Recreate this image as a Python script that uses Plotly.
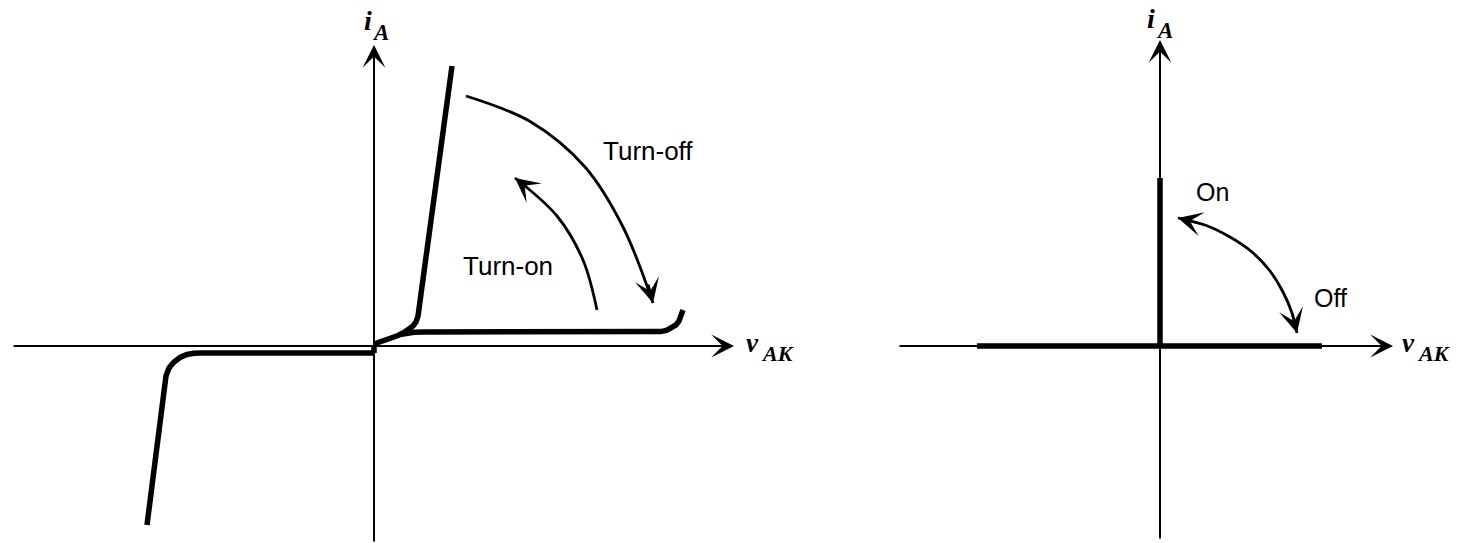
import plotly.graph_objects as go

# ---------------- data (units: pixels relative to each panel's axis origin, y up) ----------------
# Left panel: thyristor i-v characteristic
rev_x = [-227, -210, -208, -205, -200, -194, -187, -180, -174, 0]
rev_y = [-179, -40, -30, -22, -16, -11.5, -8.5, -7.3, -7, -7]
rev_stub_x = [0, 0]
rev_stub_y = [-7, 1]

on_x = [0, 8, 16, 24, 30, 35, 39, 42, 44, 78]
on_y = [2, 4.5, 7.5, 10.5, 13.5, 16.5, 20, 24, 30, 280]

block_x = [26, 33, 40, 50, 280, 287, 293, 298, 302, 305, 307.5, 309]
block_y = [11.5, 13, 13.7, 14, 14, 14.4, 15.8, 18, 21, 25, 30, 36]

turnoff_x = [92, 157, 211, 249, 279]
turnoff_y = [250, 224, 179, 119, 43]

turnon_x = [223, 209, 183, 141]
turnon_y = [36, 86, 130, 168]

# Right panel: idealized characteristic
ideal_on_x = [0, 0]
ideal_on_y = [0, 168]
ideal_off_x = [-183, 162]
ideal_off_y = [0, 0]
onoff_x = [18, 45, 70, 92, 110, 123, 132, 137]
onoff_y = [128, 121, 109, 94, 75, 54, 33, 13]

# axis extents [start, end]
left_h_axis = [-362, 360]
left_v_axis = [-197, 301]
right_h_axis = [-262, 233]
right_v_axis = [-194, 306]

labels_left = [("Turn-off", 274, 195), ("Turn-on", 134, 80)]
labels_right = [("On", 52, 154), ("Off", 170, 48)]

FONT_SANS = "Liberation Sans, Arial, sans-serif"
FONT_SERIF = "Liberation Serif, DejaVu Serif, serif"

fig = go.Figure()

def line(x, y, width, xa, ya, spline=False):
    fig.add_trace(go.Scatter(
        x=x, y=y, mode="lines", xaxis=xa, yaxis=ya, hoverinfo="skip",
        line=dict(color="black", width=width, shape="spline", smoothing=1.0)
        if spline else dict(color="black", width=width),
    ))

# Left panel curves
line(rev_x, rev_y, 5.5, "x", "y")
line(rev_stub_x, rev_stub_y, 5.5, "x", "y")
line(on_x, on_y, 5.5, "x", "y")
line(block_x, block_y, 5.5, "x", "y")
line(turnoff_x, turnoff_y, 2.8, "x", "y", spline=True)
line(turnon_x, turnon_y, 2.8, "x", "y", spline=True)

# Right panel
line(ideal_on_x, ideal_on_y, 5.5, "x2", "y2")
line(ideal_off_x, ideal_off_y, 5.5, "x2", "y2")
line(onoff_x, onoff_y, 2.8, "x2", "y2", spline=True)

annotations = []

def arrow(x0, y0, x1, y1, xr, yr, width=2, size=1.9):
    annotations.append(dict(
        x=x1, y=y1, ax=x0, ay=y0, xref=xr, yref=yr, axref=xr, ayref=yr,
        text="", showarrow=True, arrowhead=3, arrowwidth=width, arrowsize=size,
        arrowcolor="black", standoff=0, startstandoff=0,
    ))

# axes with arrowheads
arrow(left_h_axis[0], 0, left_h_axis[1], 0, "x", "y")
arrow(0, left_v_axis[0], 0, left_v_axis[1], "x", "y")
arrow(right_h_axis[0], 0, right_h_axis[1], 0, "x2", "y2")
arrow(0, right_v_axis[0], 0, right_v_axis[1], "x2", "y2")

# curved arrow heads (direction from the curve's end tangent)
arrow(turnoff_x[-1] - 5, turnoff_y[-1] + 20, turnoff_x[-1], turnoff_y[-1], "x", "y", 2.4, 1.7)
arrow(turnon_x[-1] + 14, turnon_y[-1] - 11, turnon_x[-1], turnon_y[-1], "x", "y", 2.4, 1.7)
arrow(onoff_x[-2], onoff_y[-2], onoff_x[-1], onoff_y[-1], "x2", "y2", 2.4, 1.7)
arrow(onoff_x[1], onoff_y[1], onoff_x[0], onoff_y[0], "x2", "y2", 2.4, 1.7)

def text(t, x, y, xr, yr, size, family, anchor="center"):
    annotations.append(dict(x=x, y=y, xref=xr, yref=yr, text=t, showarrow=False,
                            xanchor=anchor, yanchor="middle",
                            font=dict(size=size, family=family, color="black")))

for t, x, y in labels_left:
    text(t, x, y, "x", "y", 26, FONT_SANS)
for t, x, y in labels_right:
    text(t, x, y, "x2", "y2", 25, FONT_SANS)

# axis labels
text("<b><i>i</i></b>", -6, 326, "x", "y", 28, FONT_SERIF)
text("<b><i>A</i></b>", 6, 314, "x", "y", 23, FONT_SERIF)
text("<b><i>v</i></b>", 378, 3, "x", "y", 27, FONT_SERIF)
text("<b><i>AK</i></b>", 403, -7, "x", "y", 22, FONT_SERIF)

text("<b><i>i</i></b>", -9, 328, "x2", "y2", 28, FONT_SERIF)
text("<b><i>A</i></b>", 4, 316, "x2", "y2", 23, FONT_SERIF)
text("<b><i>v</i></b>", 248, 3, "x2", "y2", 27, FONT_SERIF)
text("<b><i>AK</i></b>", 273, -7, "x2", "y2", 22, FONT_SERIF)

fig.update_layout(
    width=1463, height=543,
    margin=dict(l=0, r=0, t=0, b=0),
    paper_bgcolor="white", plot_bgcolor="white",
    showlegend=False,
    xaxis=dict(domain=[0, 820 / 1463], range=[-374, 446], visible=False, fixedrange=True),
    yaxis=dict(domain=[0, 1], range=[-197, 346], visible=False, fixedrange=True),
    xaxis2=dict(domain=[820 / 1463, 1], range=[-340, 303], visible=False, anchor="y2", fixedrange=True),
    yaxis2=dict(domain=[0, 1], range=[-197, 346], visible=False, anchor="x2", fixedrange=True),
    annotations=annotations,
)

fig.write_html(
    "out.html",
    config={"displayModeBar": False},
    post_script="document.body.style.margin='0px'; document.body.style.overflow='hidden';",
)
